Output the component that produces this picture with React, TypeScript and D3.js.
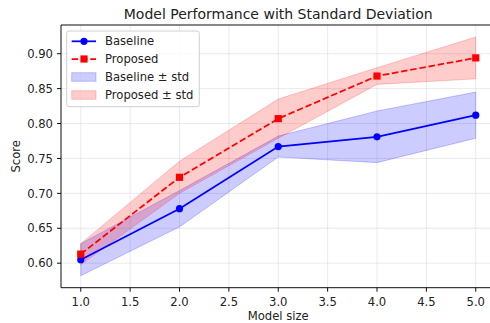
import React from 'react';
import * as d3 from 'd3';

// chart values
const modelSizes = [1, 2, 3, 4, 5];
const baselineMean = [0.605, 0.678, 0.767, 0.781, 0.812];
const baselineStd = [0.023, 0.026, 0.015, 0.037, 0.033];
const proposedMean = [0.613, 0.723, 0.807, 0.868, 0.894];
const proposedStd = [0.015, 0.023, 0.028, 0.012, 0.030];
const xTicks = [1.0, 1.5, 2.0, 2.5, 3.0, 3.5, 4.0, 4.5, 5.0];
const yTicks = [0.6, 0.65, 0.7, 0.75, 0.8, 0.85, 0.9];

const W = 490;
const H = 323;
const margin = { left: 61, top: 25, bottom: 287.7 };
const font = '"DejaVu Sans", sans-serif';
const fs = 11.6;

// matplotlib style 5% padding around the data
function padded(lo: number, hi: number) {
  const m = (hi - lo) * 0.05;
  return [lo - m, hi + m];
}

export default function App() {
  const yLo = d3.min(baselineMean.map((v, i) => v - baselineStd[i]).concat(proposedMean.map((v, i) => v - proposedStd[i]))) as number;
  const yHi = d3.max(baselineMean.map((v, i) => v + baselineStd[i]).concat(proposedMean.map((v, i) => v + proposedStd[i]))) as number;
  const xDom = padded(d3.min(modelSizes) as number, d3.max(modelSizes) as number);

  const x = d3.scaleLinear().domain(xDom).range([margin.left, margin.left + 4.4 * 98.75]);
  const y = d3.scaleLinear().domain(padded(yLo, yHi)).range([margin.bottom, margin.top]);
  const right = x.range()[1];

  const line = d3.line<number>().x((d, i) => x(modelSizes[i])).y((d) => y(d));
  const band = (mean: number[], std: number[]) =>
    d3.area<number>()
      .x((d, i) => x(modelSizes[i]))
      .y0((d, i) => y(d - std[i]))
      .y1((d, i) => y(d + std[i]))(mean) as string;

  const series = [
    { name: 'Baseline', mean: baselineMean, std: baselineStd, color: '#0000ff', dash: undefined, marker: 'circle' },
    { name: 'Proposed', mean: proposedMean, std: proposedStd, color: '#ff0000', dash: '6.5 2.8', marker: 'square' },
  ];

  const marker = (kind: string, cx: number, cy: number, color: string, key: any) =>
    kind === 'circle'
      ? <circle key={key} cx={cx} cy={cy} r={3.6} fill={color} />
      : <rect key={key} x={cx - 3.6} y={cy - 3.6} width={7.2} height={7.2} fill={color} />;

  const lx = 66.7;
  const ly = 31;
  const rowY = [41.3, 59, 77, 95];

  return (
    <svg width={W} height={H} style={{ position: 'absolute', left: 0, top: 0 }} fontFamily={font}>
      <rect width={W} height={H} fill="#fff" />
      <defs>
        <clipPath id="plot">
          <rect x={margin.left} y={margin.top} width={right - margin.left} height={margin.bottom - margin.top} />
        </clipPath>
      </defs>

      {/* grid */}
      <g stroke="#b0b0b0" strokeOpacity={0.3} strokeWidth={0.9}>
        {xTicks.map((t) => <line key={'gx' + t} x1={x(t)} x2={x(t)} y1={margin.top} y2={margin.bottom} />)}
        {yTicks.map((t) => <line key={'gy' + t} x1={margin.left} x2={right} y1={y(t)} y2={y(t)} />)}
      </g>

      <g clipPath="url(#plot)">
        {series.map((s) => <path key={'b' + s.name} d={band(s.mean, s.std)} fill={s.color} fillOpacity={0.2} stroke={s.color} strokeOpacity={0.2} strokeWidth={1} />)}
        {series.map((s) => (
          <g key={'l' + s.name}>
            <path d={line(s.mean) as string} fill="none" stroke={s.color} strokeWidth={1.75} strokeDasharray={s.dash} />
            {s.mean.map((v, i) => marker(s.marker, x(modelSizes[i]), y(v), s.color, i))}
          </g>
        ))}
      </g>

      {/* spines */}
      <g stroke="#000" strokeWidth={0.95} fill="none">
        <line x1={margin.left} x2={right} y1={margin.top} y2={margin.top} />
        <line x1={margin.left} x2={right} y1={margin.bottom} y2={margin.bottom} />
        <line x1={margin.left} x2={margin.left} y1={margin.top} y2={margin.bottom} />
        <line x1={right} x2={right} y1={margin.top} y2={margin.bottom} />
      </g>

      {/* ticks */}
      <g fontSize={fs} fill="#222">
        {xTicks.map((t) => (
          <g key={'tx' + t}>
            <line x1={x(t)} x2={x(t)} y1={margin.bottom} y2={margin.bottom + 4} stroke="#000" strokeWidth={0.95} />
            <text x={x(t)} y={305.5} textAnchor="middle">{t.toFixed(1)}</text>
          </g>
        ))}
        {yTicks.map((t) => (
          <g key={'ty' + t}>
            <line x1={margin.left - 4} x2={margin.left} y1={y(t)} y2={y(t)} stroke="#000" strokeWidth={0.95} />
            <text x={margin.left - 8} y={y(t)} dy="0.36em" textAnchor="end">{t.toFixed(2)}</text>
          </g>
        ))}
      </g>

      <text x={(margin.left + right) / 2} y={320.3} textAnchor="middle" fontSize={fs} fill="#222">Model size</text>
      <text transform={`translate(19.5, ${(margin.top + margin.bottom) / 2}) rotate(-90)`} textAnchor="middle" fontSize={fs} fill="#222">Score</text>
      <text x={(margin.left + right) / 2} y={18.5} textAnchor="middle" fontSize={14} fill="#222">Model Performance with Standard Deviation</text>

      {/* legend */}
      <g>
        <rect x={lx} y={ly} width={132.6} height={75.7} rx={2.5} fill="#fff" fillOpacity={0.8} stroke="#cccccc" strokeWidth={0.95} />
        {series.map((s, i) => (
          <g key={'lg' + s.name}>
            <line x1={71.7} x2={96} y1={rowY[i]} y2={rowY[i]} stroke={s.color} strokeWidth={1.75} strokeDasharray={s.dash} />
            {marker(s.marker, 84, rowY[i], s.color, 'm')}
            <text x={105} y={rowY[i]} dy="0.36em" fontSize={fs} fill="#222">{s.name}</text>
          </g>
        ))}
        {series.map((s, i) => (
          <g key={'lf' + s.name}>
            <rect x={71.7} y={rowY[i + 2] - 4.3} width={24.3} height={8.6} fill={s.color} fillOpacity={0.2} stroke={s.color} strokeOpacity={0.2} />
            <text x={105} y={rowY[i + 2]} dy="0.36em" fontSize={fs} fill="#222">{s.name} ± std</text>
          </g>
        ))}
      </g>
    </svg>
  );
}
